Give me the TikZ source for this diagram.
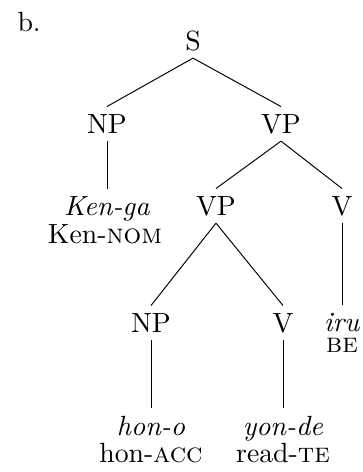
\documentclass[tikz,border=0pt]{standalone}
\begin{document}
\begin{tikzpicture}[x=0.36pt,y=-0.36pt,
  lbl/.style={anchor=base,inner sep=2.5pt,font=\normalsize},
  gloss/.style={anchor=base,inner sep=0pt,font=\normalsize},
  edge/.style={draw=black,line width=0.35pt}]
\useasboundingbox (0,0) rectangle (363,472);
\node[lbl,anchor=base west] (ex) at (10,31) {b.};
\node[lbl] (S) at (193,50) {S};
\node[lbl] (NP1) at (107,133) {NP};
\node[lbl] (VP1) at (281,133) {VP};
\node[lbl] (ken) at (107,215) {\textit{Ken-ga}};
\node[gloss] (kengl) at (105,243) {Ken-\textsc{nom}};
\node[lbl] (VP2) at (216,215) {VP};
\node[lbl] (V1) at (342,215) {V};
\node[lbl] (NP2) at (151,332) {NP};
\node[lbl] (V2) at (283,332) {V};
\node[gloss] (iru) at (342,331) {\textit{iru}};
\node[gloss] (be) at (342,352) {\textsc{be}};
\node[lbl] (hon) at (151,435) {\textit{hon-o}};
\node[gloss] (hongl) at (151,462) {hon-\textsc{acc}};
\node[lbl] (yon) at (283,435) {\textit{yon-de}};
\node[gloss] (yongl) at (283,462) {read-\textsc{te}};
\draw[edge] (S.south) -- (NP1.north);
\draw[edge] (S.south) -- (VP1.north);
\draw[edge] (NP1.south) -- (ken.north);
\draw[edge] (VP1.south) -- (VP2.north);
\draw[edge] (VP1.south) -- (V1.north);
\draw[edge] (VP2.south) -- (NP2.north);
\draw[edge] (VP2.south) -- (V2.north);
\draw[edge] (V1.south) -- ([yshift=2.5pt]iru.north);
\draw[edge] (NP2.south) -- (hon.north);
\draw[edge] (V2.south) -- (yon.north);
\end{tikzpicture}
\end{document}
